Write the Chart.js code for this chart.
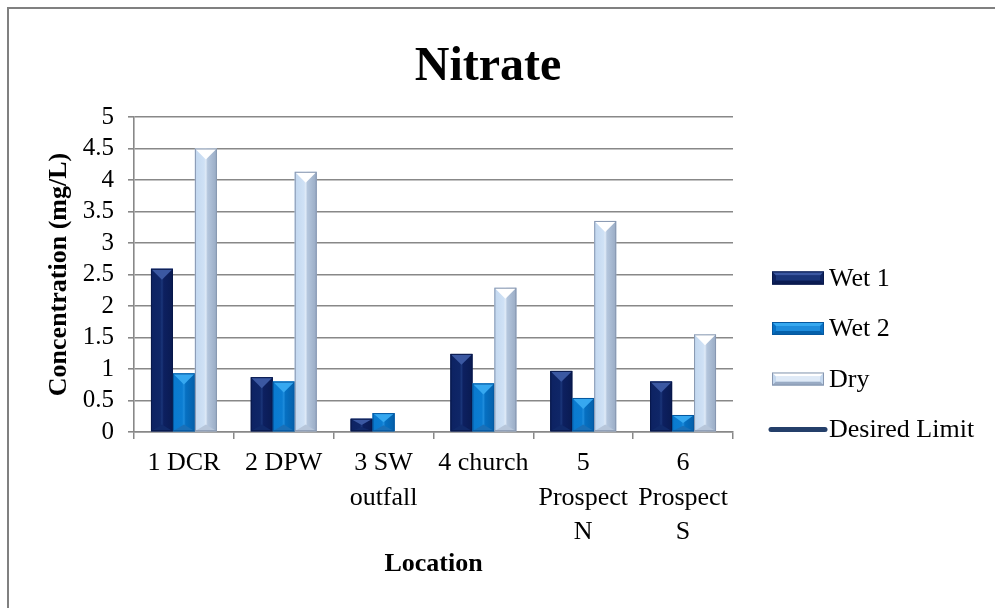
<!DOCTYPE html>
<html>
<head>
<meta charset="utf-8">
<title>Nitrate</title>
<script src="https://cdn.jsdelivr.net/npm/chart.js@4.4.1/dist/chart.umd.min.js"></script>
<style>
  html, body { margin: 0; padding: 0; background: #fff; }
  #wrap { width: 995px; height: 608px; }
</style>
</head>
<body>
<div id="wrap"><canvas id="chart" width="995" height="608"></canvas></div>
<script>
// Sampling locations (multi-line labels are split into arrays)
const locations = ['1 DCR', '2 DPW', ['3 SW', 'outfall'], '4 church', ['5', 'Prospect', 'N'], ['6', 'Prospect', 'S']];

// Nitrate concentration, mg/L
const wet1 = [2.59, 0.87, 0.21, 1.24, 0.97, 0.80];
const wet2 = [0.93, 0.80, 0.30, 0.77, 0.54, 0.27];
const dry  = [4.50, 4.13, null, 2.29, 3.35, 1.55];
// Drinking-water limit for nitrate (above the plotted range)
const desiredLimit = [10, 10, 10, 10, 10, 10];

const seriesNames = ['Wet 1', 'Wet 2', 'Dry', 'Desired Limit'];

// Value axis: 0 to 5 in steps of 0.5
const yMin = 0, yMax = 5, yStep = 0.5;

const FONT = "'Liberation Serif', 'Times New Roman', serif";

// Bevel palettes for the bar series
const palettes = [
  { left: '#0d2262', left2: '#0f2667', mid: '#1a3579', right2: '#0d2060', right: '#0a1b52',
    top: '#3b58a2', bottom: '#112a6a', edge: '#08184a', base: '#0e225f' },
  { left: '#0a7acf', left2: '#0b7dd2', mid: '#1e8cdc', right2: '#0670c2', right: '#0560aa',
    top: '#36a8f0', bottom: '#1a70b8', edge: '#0558a0', base: '#0670c4' },
  { left: '#c2d7ef', left2: '#cfe1f5', mid: '#dfeaf7', right2: '#b4c6dd', right: '#99abc4',
    top: '#ffffff', bottom: '#b7c6da', edge: '#8797b0', base: '#c5d8ee' }
];

function bevelBar(ctx, l, r, t, b, pal) {
  const w = r - l, h = b - t;
  if (h <= 0.5 || w <= 0) return;
  const g = ctx.createLinearGradient(l, 0, r, 0);
  g.addColorStop(0, pal.left);
  g.addColorStop(0.42, pal.left2);
  g.addColorStop(0.5, pal.mid);
  g.addColorStop(0.58, pal.right2);
  g.addColorStop(1, pal.right);
  ctx.fillStyle = g;
  ctx.fillRect(l, t, w, h);
  const tri = Math.min(w * 0.5, h / 2);
  // top facet
  ctx.beginPath();
  ctx.moveTo(l, t); ctx.lineTo(r, t); ctx.lineTo(l + w / 2, t + tri); ctx.closePath();
  ctx.fillStyle = pal.top; ctx.fill();
  // bottom facet
  const btri = Math.min(w * 0.3, h / 3);
  ctx.beginPath();
  ctx.moveTo(l, b); ctx.lineTo(r, b); ctx.lineTo(l + w / 2, b - btri); ctx.closePath();
  ctx.fillStyle = pal.bottom; ctx.fill();
  ctx.strokeStyle = pal.edge; ctx.lineWidth = 1;
  ctx.strokeRect(l + 0.5, t + 0.5, w - 1, h - 1);
}

function bevelSwatch(ctx, l, t, w, h, pal) {
  const r = l + w, b = t + h, d = 4;
  ctx.fillStyle = pal.base; ctx.fillRect(l, t, w, h);
  ctx.beginPath();
  ctx.moveTo(l, t); ctx.lineTo(r, t); ctx.lineTo(r - d, t + d); ctx.lineTo(l + d, t + d); ctx.closePath();
  ctx.fillStyle = pal.top; ctx.fill();
  ctx.beginPath();
  ctx.moveTo(l, b); ctx.lineTo(r, b); ctx.lineTo(r - d, b - d); ctx.lineTo(l + d, b - d); ctx.closePath();
  ctx.fillStyle = pal.right; ctx.fill();
  ctx.fillStyle = pal.mid; ctx.fillRect(l + d, t + d, w - 2 * d, h - 2 * d);
  ctx.strokeStyle = pal.edge; ctx.lineWidth = 1;
  ctx.strokeRect(l + 0.5, t + 0.5, w - 1, h - 1);
}

// Draws bevelled bars, the frame, the title and the legend
const decor = {
  id: 'decor',
  afterDatasetsDraw(chart) {
    const ctx = chart.ctx;
    ctx.save();
    chart.data.datasets.forEach((ds, i) => {
      const meta = chart.getDatasetMeta(i);
      if (meta.type !== 'bar' || meta.hidden) return;
      meta.data.forEach((el, j) => {
        if (ds.data[j] == null) return;
        const p = el.getProps(['x', 'y', 'base', 'width'], true);
        bevelBar(ctx, p.x - p.width / 2, p.x + p.width / 2, Math.min(p.y, p.base), Math.max(p.y, p.base), palettes[i]);
      });
    });
    ctx.restore();
  },
  afterDraw(chart) {
    const ctx = chart.ctx, area = chart.chartArea;
    ctx.save();
    // outer frame
    ctx.strokeStyle = '#808080'; ctx.lineWidth = 2;
    ctx.strokeRect(8, 8, chart.width, chart.height);
    // title
    ctx.fillStyle = '#000';
    ctx.font = "bold 48px " + FONT;
    ctx.textAlign = 'center'; ctx.textBaseline = 'alphabetic';
    ctx.fillText('Nitrate', (chart.width - 19) / 2, 80);
    // legend
    const lx = area.right + 39, step = 50.5, y0 = 278;
    ctx.font = "26px " + FONT;
    ctx.textAlign = 'left'; ctx.textBaseline = 'middle';
    chart.data.datasets.forEach((ds, i) => {
      const cy = y0 + i * step;
      if (ds.type === 'line') {
        ctx.strokeStyle = ds.borderColor; ctx.lineWidth = 5; ctx.lineCap = 'round';
        ctx.beginPath(); ctx.moveTo(lx - 1, cy); ctx.lineTo(lx + 53, cy); ctx.stroke();
      } else {
        bevelSwatch(ctx, lx, cy - 6.5, 52, 13, palettes[i]);
      }
      ctx.fillStyle = '#000';
      ctx.fillText(ds.label, lx + 57, cy + 1);
    });
    ctx.restore();
  }
};

Chart.defaults.font.family = FONT;
Chart.defaults.color = '#000';

new Chart(document.getElementById('chart'), {
  type: 'bar',
  data: {
    labels: locations,
    datasets: [
      { label: seriesNames[0], data: wet1, backgroundColor: palettes[0].base },
      { label: seriesNames[1], data: wet2, backgroundColor: palettes[1].base },
      { label: seriesNames[2], data: dry, backgroundColor: palettes[2].base },
      { label: seriesNames[3], data: desiredLimit, type: 'line', borderColor: '#243f6a',
        borderWidth: 4, pointRadius: 0, fill: false }
    ]
  },
  options: {
    responsive: false,
    animation: false,
    layout: { padding: { left: 10, right: 262, top: 117, bottom: 0 } },
    plugins: {
      legend: { display: false },
      title: { display: false },
      tooltip: { enabled: false }
    },
    datasets: { bar: { barPercentage: 1, categoryPercentage: 0.66 } },
    scales: {
      x: {
        grid: { offset: true, drawOnChartArea: false, drawTicks: true, tickLength: 7, color: '#888', lineWidth: 1.5 },
        border: { color: '#888', width: 1.5 },
        ticks: { color: '#000', font: { size: 26, lineHeight: 1.33 }, padding: 7, maxRotation: 0, autoSkip: false },
        title: { display: true, text: 'Location', color: '#000', font: { size: 26, weight: 'bold' }, padding: { top: 0, bottom: 28 } },
        afterFit: (s) => { s.height = 176; }
      },
      y: {
        min: yMin, max: yMax,
        ticks: {
          stepSize: yStep, autoSkip: false, color: '#000', font: { size: 25, lineHeight: 1 }, padding: 14,
          callback: (v) => String(Math.round(v * 10) / 10)
        },
        grid: { color: '#888', lineWidth: 1.6, tickLength: 6 },
        border: { color: '#888', width: 1.6 },
        title: { display: true, text: 'Concentration (mg/L)', color: '#000', font: { size: 26, weight: 'bold' }, padding: { top: 34, bottom: 0 } },
        afterFit: (s) => { s.width = 124; }
      }
    }
  },
  plugins: [decor]
});
</script>
</body>
</html>
